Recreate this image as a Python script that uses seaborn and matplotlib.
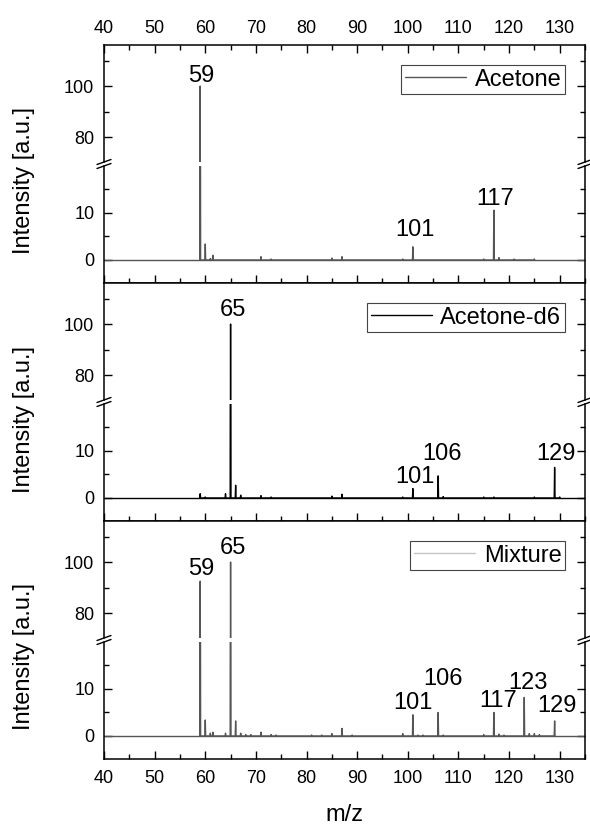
import pandas as pd
import matplotlib
matplotlib.use('Agg')
import matplotlib.pyplot as plt
import seaborn as sns
from matplotlib.lines import Line2D
from matplotlib.ticker import MultipleLocator

sns.set_style('ticks')
plt.rcParams['font.family'] = ['Liberation Sans', 'DejaVu Sans']
plt.rcParams['text.color'] = 'black'
plt.rcParams['xtick.color'] = 'black'
plt.rcParams['ytick.color'] = 'black'

# peak lists (m/z, intensity)
acetone_mz = [59, 60, 61, 61.5, 71, 73, 85, 87, 99, 101, 115, 117, 118, 121, 125]
acetone_int = [100, 3.4, 0.3, 1.0, 0.7, 0.2, 0.4, 0.7, 0.2, 2.8, 0.2, 10.6, 0.5, 0.2, 0.2]

d6_mz = [59, 60, 64, 65, 66, 67, 71, 73, 85, 87, 99, 101, 106, 107, 115, 117, 125, 129, 130]
d6_int = [0.9, 0.2, 0.9, 100, 2.7, 0.6, 0.5, 0.2, 0.4, 0.8, 0.2, 2.0, 4.7, 0.3, 0.2, 0.2, 0.2, 6.5, 0.2]

mix_mz = [59, 60, 61, 61.5, 64, 65, 66, 67, 68, 69, 71, 73, 74, 81, 83, 85, 87, 89,
          99, 101, 102, 103, 106, 107, 115, 117, 118, 119, 123, 124, 125, 126, 129]
mix_int = [92.5, 3.4, 0.6, 0.8, 0.6, 100, 3.2, 0.6, 0.3, 0.3, 0.8, 0.3, 0.2, 0.2, 0.2, 0.5, 1.6, 0.2,
           0.5, 4.5, 0.2, 0.2, 5.0, 0.2, 0.3, 5.0, 0.4, 0.2, 8.2, 0.5, 0.5, 0.3, 3.2]

# peak labels: text, x, y (baseline of the text)
acetone_labels = [('59', 59.2, 101.5), ('101', 101.4, 5.0), ('117', 117.3, 11.7)]
d6_labels = [('65', 65.4, 103), ('101', 101.4, 3.1), ('106', 106.8, 8.1), ('129', 129.2, 8.1)]
mix_labels = [('59', 59.3, 95), ('65', 65.4, 103), ('101', 101.1, 5.7), ('106', 107.0, 10.9),
              ('117', 117.8, 6.2), ('123', 123.8, 10.1), ('129', 129.4, 5.0)]

names = ['Acetone', 'Acetone-d6', 'Mixture']
line_colors = ['#555555', '#000000', '#555555']
legend_colors = ['#555555', '#000000', '#c4c4c4']
spectra = [(acetone_mz, acetone_int), (d6_mz, d6_int), (mix_mz, mix_int)]
labels = [acetone_labels, d6_labels, mix_labels]


def stick_frame(mz, inten, w=0.08):
    xs, ys = [], []
    for m, v in zip(mz, inten):
        xs += [m - w, m, m + w]
        ys += [0, v, 0]
    return pd.DataFrame({'mz': xs, 'intensity': ys})


W, H = 590, 827
fig = plt.figure(figsize=(W / 100, H / 100), dpi=100)


def px_axes(left, top, width, height):
    return fig.add_axes([left / W, 1 - (top + height) / H, width / W, height / H])


up_lim = (70.2, 116.1)
lo_lim = (-4.9, 20.0)

for i in range(3):
    top = 45 + 238 * i
    ax_up = px_axes(104, top, 481, 117)
    ax_lo = px_axes(104, top + 121, 481, 117)
    df = stick_frame(*spectra[i])
    for ax in (ax_up, ax_lo):
        ax.axhline(0, color=line_colors[i], lw=1.0)
        sns.lineplot(data=df, x='mz', y='intensity', estimator=None, sort=False,
                     color=line_colors[i], lw=1.0, ax=ax)
        ax.set_xlim(40, 135)
        ax.set_xlabel('')
        ax.set_ylabel('')
        ax.xaxis.set_major_locator(MultipleLocator(10))
        ax.xaxis.set_minor_locator(MultipleLocator(5))
        for s in ax.spines.values():
            s.set_linewidth(1.1)
            s.set_color('black')
        ax.tick_params(which='both', direction='in', left=True, right=True,
                       labelsize=13, width=1.0, color='black', labelcolor='black')
        ax.tick_params(which='major', length=6)
        ax.tick_params(which='minor', length=3.5)
        ax.tick_params(axis='y', pad=7)

    ax_up.set_ylim(*up_lim)
    ax_up.set_yticks([80, 100])
    ax_up.set_yticks([90, 110], minor=True)
    ax_up.spines['bottom'].set_visible(False)
    ax_up.tick_params(axis='x', which='both', bottom=False, labelbottom=False,
                      top=(i == 0), labeltop=(i == 0), pad=6)

    ax_lo.set_ylim(*lo_lim)
    ax_lo.set_yticks([0, 10])
    ax_lo.set_yticks([5, 15], minor=True)
    ax_lo.spines['top'].set_visible(False)
    ax_lo.tick_params(axis='x', which='both', top=False, bottom=True,
                      labelbottom=(i == 2), pad=8)

    for txt, x, y in labels[i]:
        target = ax_up if y > up_lim[0] else ax_lo
        target.text(x, y, txt, ha='center', va='baseline', fontsize=17)

    leg = ax_up.legend(handles=[Line2D([], [], color=legend_colors[i], lw=1.0)],
                       labels=[names[i]], loc='upper right', fontsize=17,
                       borderaxespad=0.85, fancybox=False, framealpha=1,
                       edgecolor='#444444', borderpad=0.15, handlelength=2.6,
                       handletextpad=0.35)
    leg.get_frame().set_linewidth(0.8)

    # axis break marks
    yb = 1 - (top + 119) / H
    for xb in (104, 585):
        for dy in (-2, 2):
            fig.add_artist(Line2D([(xb - 7) / W, (xb + 7) / W],
                                  [yb + (dy - 2.5) / H, yb + (dy + 2.5) / H],
                                  color='black', lw=1.0))

    fig.text(24 / W, 1 - (top + 119 + 17) / H, 'Intensity [a.u.]', rotation=90,
             ha='center', va='center', fontsize=17)

fig.text(344.5 / W, 1 - 815 / H, 'm/z', ha='center', va='center', fontsize=17)

fig.savefig('out.png', dpi=100, facecolor='white')
